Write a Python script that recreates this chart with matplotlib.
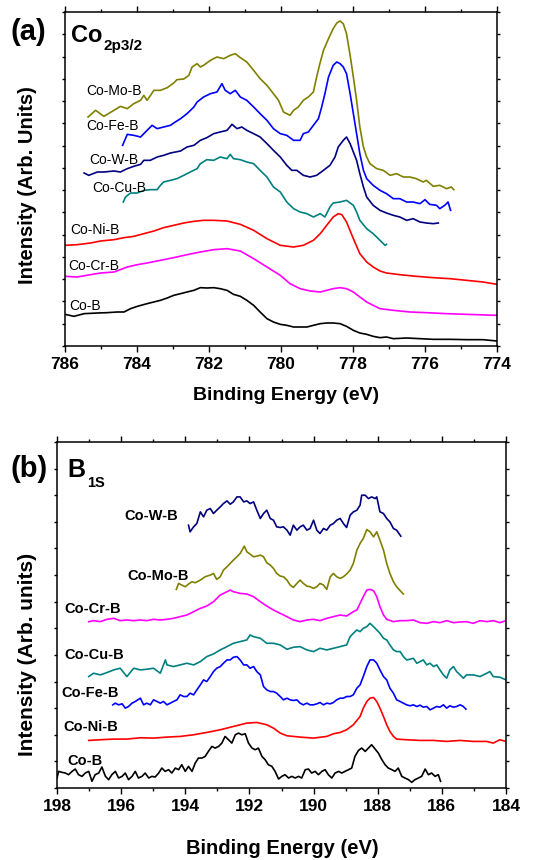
import matplotlib.pyplot as plt
from matplotlib.ticker import MultipleLocator

plt.rcParams["font.family"] = ["Liberation Sans", "DejaVu Sans"]

# ---------------- panel (a): Co 2p3/2 (binding energy in eV, intensity in arb. units)
a_mo_ev = [785.36, 785.15, 784.92, 784.64, 784.46, 784.27, 784.09, 783.90, 783.81, 783.72, 783.53, 783.35,
           783.16, 782.98, 782.89, 782.70, 782.56, 782.47, 782.33, 782.24, 782.15, 781.96, 781.78, 781.59,
           781.41, 781.27, 781.13, 780.95, 780.76, 780.58, 780.39, 780.21, 780.07, 779.93, 779.84, 779.75,
           779.65, 779.52, 779.38, 779.24, 779.10, 779.01, 778.92, 778.82, 778.68, 778.55, 778.45, 778.36,
           778.27, 778.18, 778.08, 777.99, 777.90, 777.81, 777.71, 777.62, 777.53, 777.34, 777.16, 776.97,
           776.79, 776.60, 776.42, 776.24, 776.05, 775.96, 775.77, 775.59, 775.40, 775.27, 775.20]
a_mo_y = [687, 707, 689, 707, 719, 712, 727, 737, 752, 737, 767, 767,
          775, 789, 799, 801, 812, 837, 847, 837, 842, 857, 867, 862,
          872, 877, 865, 852, 827, 802, 782, 757, 737, 702, 697, 692,
          707, 717, 737, 747, 762, 807, 847, 887, 922, 952, 969, 975,
          967, 937, 872, 807, 737, 657, 597, 567, 547, 532, 527, 512,
          517, 507, 507, 502, 492, 497, 479, 482, 472, 477, 469]

a_fe_ev = [784.40, 784.27, 784.09, 783.90, 783.72, 783.58, 783.44, 783.26, 783.07, 782.98, 782.79, 782.61,
           782.42, 782.33, 782.15, 781.96, 781.78, 781.64, 781.55, 781.41, 781.27, 781.13, 780.95, 780.76,
           780.58, 780.39, 780.21, 780.02, 779.84, 779.65, 779.47, 779.38, 779.24, 779.10, 778.96, 778.87,
           778.78, 778.68, 778.55, 778.45, 778.36, 778.27, 778.18, 778.08, 777.99, 777.90, 777.81, 777.71,
           777.62, 777.53, 777.44, 777.25, 777.07, 776.88, 776.70, 776.51, 776.33, 776.14, 776.00, 775.87,
           775.68, 775.59, 775.45, 775.36, 775.29]
a_fe_y = [602, 635, 632, 627, 647, 662, 652, 657, 662, 669, 682, 697,
          717, 732, 747, 757, 762, 787, 767, 757, 767, 747, 737, 717,
          697, 677, 652, 637, 632, 617, 617, 637, 642, 662, 682, 717,
          757, 807, 842, 852, 847, 837, 817, 757, 697, 637, 577, 527,
          502, 492, 482, 467, 457, 442, 442, 432, 432, 427, 439, 425,
          422, 412, 422, 432, 407]

a_w_ev = [785.47, 785.34, 785.10, 784.92, 784.64, 784.46, 784.27, 784.09, 783.90, 783.81, 783.63, 783.44,
          783.26, 783.07, 782.79, 782.61, 782.42, 782.24, 782.06, 781.87, 781.69, 781.50, 781.36, 781.22,
          781.09, 780.95, 780.76, 780.58, 780.39, 780.21, 780.02, 779.84, 779.70, 779.56, 779.38, 779.19,
          779.01, 778.82, 778.64, 778.50, 778.41, 778.27, 778.18, 778.08, 777.99, 777.90, 777.81, 777.71,
          777.62, 777.44, 777.25, 777.07, 776.88, 776.70, 776.51, 776.33, 776.14, 775.96, 775.77, 775.63]
a_w_y = [519, 512, 522, 522, 525, 522, 532, 539, 545, 557, 557, 567,
         572, 579, 585, 597, 602, 617, 625, 637, 642, 647, 665, 652,
         657, 647, 637, 627, 607, 587, 567, 542, 527, 527, 512, 507,
         512, 527, 542, 567, 597, 617, 627, 607, 582, 557, 517, 477,
         447, 422, 407, 399, 392, 387, 377, 382, 372, 369, 367, 369]

a_cu_ev = [784.38, 784.32, 784.18, 783.99, 783.81, 783.63, 783.44, 783.35, 783.26, 783.07, 782.89, 782.70,
           782.52, 782.33, 782.24, 782.06, 781.87, 781.69, 781.50, 781.41, 781.32, 781.13, 780.95, 780.76,
           780.58, 780.39, 780.21, 780.02, 779.84, 779.65, 779.47, 779.28, 779.10, 778.91, 778.78, 778.64,
           778.55, 778.36, 778.18, 777.99, 777.90, 777.81, 777.62, 777.44, 777.25, 777.11, 777.07]
a_cu_y = [432, 447, 459, 459, 467, 469, 469, 482, 492, 497, 502, 512,
          522, 532, 547, 559, 557, 567, 562, 575, 562, 559, 552, 547,
          527, 507, 477, 462, 432, 412, 402, 397, 387, 397, 387, 417,
          429, 432, 437, 422, 402, 377, 352, 337, 317, 302, 305]

a_ni_ev = [786.00, 785.66, 785.29, 785.01, 784.64, 784.36, 784.09, 783.81, 783.53, 783.26, 782.98, 782.70,
           782.42, 782.15, 781.87, 781.50, 781.13, 780.76, 780.39, 780.02, 779.65, 779.38, 779.10, 778.91,
           778.73, 778.55, 778.41, 778.31, 778.18, 777.99, 777.81, 777.62, 777.44, 777.25, 777.07, 776.70,
           776.24, 775.77, 775.31, 774.85, 774.39, 774.00]
a_ni_y = [302, 304, 309, 315, 319, 325, 329, 337, 345, 355, 362, 369,
          374, 377, 377, 375, 365, 347, 322, 302, 297, 302, 317, 337,
          362, 387, 397, 394, 372, 322, 277, 252, 237, 225, 219, 214,
          209, 205, 202, 197, 192, 185]

a_cr_ev = [786.00, 785.66, 785.29, 785.01, 784.64, 784.27, 783.99, 783.72, 783.35, 782.98, 782.61, 782.24,
           781.87, 781.50, 781.13, 780.76, 780.39, 780.02, 779.75, 779.47, 779.19, 778.91, 778.73, 778.55,
           778.36, 778.18, 777.99, 777.81, 777.62, 777.44, 777.25, 776.88, 776.42, 775.96, 775.40, 774.85,
           774.00]
a_cr_y = [209, 207, 214, 219, 222, 237, 244, 249, 257, 265, 274, 282,
          289, 292, 285, 262, 237, 212, 187, 172, 165, 162, 167, 172,
          175, 172, 162, 147, 132, 122, 112, 107, 102, 100, 97, 95,
          92]

a_b_ev = [786.00, 785.75, 785.47, 785.10, 784.83, 784.55, 784.36, 784.18, 783.99, 783.72, 783.35, 783.16,
          782.98, 782.79, 782.61, 782.42, 782.24, 782.06, 781.87, 781.69, 781.50, 781.32, 781.13, 780.95,
          780.76, 780.58, 780.39, 780.21, 780.02, 779.84, 779.65, 779.47, 779.28, 779.10, 778.91, 778.73,
          778.55, 778.36, 778.18, 777.99, 777.81, 777.62, 777.44, 777.25, 777.07, 776.88, 776.51, 776.14,
          775.77, 775.31, 774.85, 774.39, 774.00]
a_b_y = [95, 89, 97, 99, 100, 102, 102, 112, 119, 127, 137, 144,
         152, 157, 162, 167, 175, 174, 175, 172, 167, 155, 149, 137,
         122, 102, 82, 72, 65, 62, 57, 57, 57, 62, 67, 69,
         69, 67, 59, 47, 39, 35, 29, 25, 27, 22, 24, 22,
         20, 20, 19, 19, 15]

a_names = ["Co-Mo-B", "Co-Fe-B", "Co-W-B", "Co-Cu-B", "Co-Ni-B", "Co-Cr-B", "Co-B"]
a_label_ev = [784.64, 784.68, 784.64, 784.50, 785.17, 785.21, 785.45]
a_label_y = [765, 659, 557, 475, 349, 239, 119]

# ---------------- panel (b): B 1s
b_w_ev = [193.90, 193.85, 193.74, 193.64, 193.53, 193.43, 193.33, 193.22, 193.12, 193.02, 192.91, 192.81,
          192.70, 192.60, 192.50, 192.39, 192.29, 192.18, 192.08, 191.98, 191.87, 191.77, 191.66, 191.56,
          191.46, 191.35, 191.25, 191.15, 191.04, 190.94, 190.83, 190.73, 190.63, 190.52, 190.42, 190.32,
          190.21, 190.11, 190.00, 189.90, 189.80, 189.69, 189.59, 189.48, 189.38, 189.28, 189.17, 189.07,
          188.97, 188.86, 188.76, 188.65, 188.55, 188.50, 188.39, 188.29, 188.19, 188.08, 188.03, 187.93,
          187.82, 187.72, 187.62, 187.51, 187.41, 187.28]
b_w_y = [790, 770, 785, 795, 830, 815, 835, 840, 825, 835, 845, 855,
         863, 853, 860, 875, 875, 860, 863, 855, 860, 835, 810, 825,
         835, 810, 805, 785, 783, 785, 775, 760, 790, 775, 785, 790,
         775, 780, 805, 775, 765, 780, 775, 790, 795, 805, 810, 795,
         783, 820, 830, 835, 850, 880, 880, 870, 875, 870, 875, 830,
         825, 810, 800, 780, 775, 757]

b_mo_ev = [194.28, 194.21, 194.11, 194.00, 193.90, 193.79, 193.69, 193.53, 193.38, 193.22, 193.12, 193.02,
           192.91, 192.81, 192.70, 192.60, 192.50, 192.39, 192.29, 192.16, 192.08, 191.98, 191.87, 191.77,
           191.66, 191.56, 191.46, 191.35, 191.25, 191.15, 191.04, 190.94, 190.83, 190.73, 190.63, 190.52,
           190.42, 190.32, 190.21, 190.11, 190.00, 189.90, 189.80, 189.69, 189.59, 189.48, 189.38, 189.28,
           189.17, 189.07, 188.97, 188.86, 188.76, 188.65, 188.55, 188.45, 188.34, 188.24, 188.13, 188.03,
           187.93, 187.82, 187.72, 187.62, 187.51, 187.41, 187.30, 187.20]
b_mo_y = [597, 615, 610, 605, 613, 620, 617, 625, 635, 640, 645, 627,
          635, 655, 665, 675, 685, 695, 705, 727, 710, 703, 695, 697,
          700, 695, 677, 670, 660, 645, 637, 635, 625, 610, 603, 615,
          625, 615, 607, 605, 600, 605, 615, 610, 597, 635, 645, 635,
          630, 635, 643, 655, 675, 715, 735, 750, 777, 770, 755, 770,
          745, 715, 675, 645, 620, 605, 593, 583]

b_cr_ev = [197.01, 196.86, 196.65, 196.44, 196.23, 196.03, 195.82, 195.61, 195.40, 195.20, 194.99, 194.78,
           194.57, 194.37, 194.16, 193.95, 193.74, 193.64, 193.53, 193.33, 193.12, 192.91, 192.70, 192.60,
           192.50, 192.29, 192.08, 191.87, 191.66, 191.46, 191.25, 191.04, 190.83, 190.63, 190.42, 190.21,
           190.00, 189.80, 189.59, 189.38, 189.17, 188.97, 188.76, 188.65, 188.55, 188.45, 188.34, 188.24,
           188.13, 188.03, 187.93, 187.82, 187.72, 187.51, 187.30, 187.10, 186.89, 186.68, 186.47, 186.26,
           186.06, 185.85, 185.64, 185.43, 185.23, 185.02, 184.81, 184.60, 184.40, 184.19, 184.00]
b_cr_y = [500, 503, 500, 507, 510, 503, 505, 503, 505, 503, 507, 505,
          507, 510, 515, 520, 530, 535, 540, 547, 560, 580, 590, 595,
          590, 585, 583, 575, 560, 547, 535, 525, 515, 505, 500, 505,
          507, 503, 510, 515, 520, 517, 530, 535, 555, 575, 595, 597,
          593, 575, 545, 520, 507, 500, 503, 503, 505, 497, 495, 500,
          497, 503, 497, 499, 500, 495, 503, 500, 503, 497, 503]

b_cu_ev = [197.01, 196.86, 196.65, 196.44, 196.23, 196.03, 195.82, 195.61, 195.40, 195.20, 194.99, 194.78,
           194.62, 194.57, 194.37, 194.16, 193.95, 193.74, 193.53, 193.33, 193.12, 192.91, 192.70, 192.50,
           192.29, 192.08, 191.98, 191.87, 191.66, 191.46, 191.25, 191.04, 190.83, 190.63, 190.42, 190.21,
           190.00, 189.80, 189.59, 189.38, 189.17, 188.97, 188.86, 188.76, 188.65, 188.55, 188.45, 188.34,
           188.24, 188.13, 188.03, 187.93, 187.82, 187.72, 187.62, 187.51, 187.41, 187.30, 187.20, 187.10,
           186.99, 186.89, 186.78, 186.68, 186.58, 186.47, 186.37, 186.26, 186.16, 186.06, 185.95, 185.85,
           185.75, 185.64, 185.54, 185.43, 185.33, 185.23, 185.02, 184.81, 184.60, 184.50, 184.40, 184.19,
           184.00]
b_cu_y = [335, 345, 340, 347, 355, 360, 335, 360, 355, 357, 360, 345,
          385, 370, 365, 370, 375, 370, 380, 395, 403, 415, 425, 435,
          440, 445, 460, 455, 450, 435, 435, 430, 417, 423, 425, 415,
          410, 420, 415, 420, 425, 430, 455, 465, 475, 470, 480, 485,
          495, 485, 475, 465, 450, 445, 430, 415, 410, 410, 395, 385,
          387, 390, 375, 380, 385, 370, 375, 365, 370, 355, 340, 330,
          355, 365, 350, 340, 330, 340, 340, 335, 345, 350, 335, 333,
          325]

b_fe_ev = [196.26, 196.18, 196.08, 195.97, 195.87, 195.77, 195.66, 195.56, 195.40, 195.30, 195.20, 195.09,
           194.99, 194.88, 194.78, 194.68, 194.57, 194.47, 194.37, 194.26, 194.16, 194.05, 193.95, 193.85,
           193.74, 193.64, 193.53, 193.43, 193.33, 193.22, 193.12, 193.02, 192.91, 192.81, 192.70, 192.60,
           192.50, 192.39, 192.29, 192.18, 192.08, 191.98, 191.87, 191.77, 191.66, 191.56, 191.46, 191.35,
           191.25, 191.15, 191.04, 190.94, 190.83, 190.73, 190.63, 190.52, 190.42, 190.32, 190.21, 190.11,
           190.00, 189.90, 189.80, 189.69, 189.59, 189.48, 189.38, 189.28, 189.17, 189.07, 188.97, 188.86,
           188.76, 188.65, 188.55, 188.45, 188.34, 188.24, 188.13, 188.03, 187.93, 187.82, 187.72, 187.62,
           187.51, 187.41, 187.30, 187.20, 187.10, 186.99, 186.89, 186.78, 186.68, 186.58, 186.47, 186.37,
           186.26, 186.16, 186.06, 185.95, 185.85, 185.75, 185.64, 185.54, 185.43, 185.33, 185.25]
b_fe_y = [250, 255, 250, 253, 240, 245, 255, 260, 270, 250, 255, 250,
          265, 260, 255, 260, 250, 255, 260, 265, 280, 275, 275, 285,
          280, 295, 310, 325, 320, 335, 350, 360, 365, 375, 385, 385,
          393, 395, 385, 370, 370, 360, 365, 350, 340, 305, 295, 290,
          290, 285, 275, 265, 270, 265, 263, 265, 255, 250, 255, 250,
          250, 253, 257, 250, 255, 253, 257, 265, 270, 270, 275, 275,
          280, 300, 310, 335, 365, 385, 385, 375, 355, 335, 325, 300,
          285, 265, 260, 255, 250, 247, 250, 245, 249, 243, 245, 235,
          240, 245, 243, 250, 240, 247, 243, 245, 250, 245, 237]

b_ni_ev = [197.01, 196.65, 196.23, 195.82, 195.40, 194.99, 194.57, 194.16, 193.74, 193.33, 192.91, 192.50,
           192.08, 191.77, 191.46, 191.25, 191.04, 190.83, 190.42, 190.00, 189.59, 189.38, 189.17, 188.97,
           188.76, 188.55, 188.45, 188.34, 188.24, 188.13, 188.03, 187.93, 187.82, 187.72, 187.62, 187.51,
           187.41, 187.10, 186.68, 186.26, 185.85, 185.43, 185.02, 184.60, 184.40, 184.19, 184.00]
b_ni_y = [143, 145, 147, 147, 151, 150, 153, 155, 160, 167, 175, 185,
          195, 197, 190, 180, 165, 157, 153, 150, 155, 163, 167, 175,
          190, 215, 240, 260, 270, 272, 260, 240, 215, 190, 170, 155,
          147, 145, 143, 143, 140, 143, 140, 140, 135, 145, 140]

b_b_ev = [198.00, 197.95, 197.84, 197.74, 197.64, 197.53, 197.43, 197.33, 197.22, 197.12, 197.01, 196.91,
          196.81, 196.70, 196.60, 196.49, 196.39, 196.29, 196.18, 196.08, 195.97, 195.87, 195.77, 195.66,
          195.56, 195.46, 195.35, 195.25, 195.14, 195.04, 194.94, 194.83, 194.73, 194.63, 194.52, 194.42,
          194.31, 194.21, 194.11, 194.00, 193.90, 193.79, 193.69, 193.59, 193.48, 193.38, 193.28, 193.17,
          193.07, 192.96, 192.86, 192.76, 192.65, 192.55, 192.44, 192.34, 192.24, 192.13, 192.03, 191.92,
          191.82, 191.72, 191.61, 191.51, 191.41, 191.30, 191.20, 191.09, 190.99, 190.89, 190.78, 190.68,
          190.57, 190.47, 190.37, 190.26, 190.16, 190.06, 189.95, 189.85, 189.74, 189.64, 189.54, 189.43,
          189.33, 189.22, 189.12, 189.02, 188.91, 188.81, 188.71, 188.60, 188.50, 188.39, 188.29, 188.19,
          188.08, 187.98, 187.87, 187.77, 187.67, 187.56, 187.46, 187.36, 187.25, 187.15, 187.04, 186.94,
          186.84, 186.73, 186.63, 186.52, 186.42, 186.32, 186.21, 186.11, 186.04]
b_b_y = [30, 50, 47, 45, 40, 50, 57, 40, 35, 45, 50, 20,
         40, 45, 63, 35, 25, 40, 50, 30, 35, 45, 25, 35,
         50, 30, 35, 45, 30, 35, 33, 45, 60, 50, 55, 45,
         60, 55, 70, 50, 65, 50, 75, 90, 90, 95, 110, 125,
         120, 125, 135, 155, 145, 135, 160, 165, 160, 163, 135, 120,
         115, 120, 95, 85, 70, 65, 50, 27, 35, 40, 30, 35,
         30, 35, 30, 55, 57, 45, 50, 40, 50, 55, 40, 30,
         45, 50, 45, 50, 55, 60, 95, 113, 120, 110, 120, 130,
         117, 105, 85, 70, 60, 55, 50, 60, 35, 30, 25, 17,
         25, 30, 35, 57, 40, 45, 35, 40, 20]

b_names = ["Co-W-B", "Co-Mo-B", "Co-Cr-B", "Co-Cu-B", "Co-Fe-B", "Co-Ni-B", "Co-B"]
b_label_ev = [195.07, 194.86, 196.88, 196.84, 196.98, 196.94, 197.12]
b_label_y = [817, 637, 538, 400, 285, 183, 82]

a_series = [(a_mo_ev, a_mo_y, "#808000"), (a_fe_ev, a_fe_y, "#0000ff"), (a_w_ev, a_w_y, "#000080"),
            (a_cu_ev, a_cu_y, "#008080"), (a_ni_ev, a_ni_y, "#ff0000"), (a_cr_ev, a_cr_y, "#ff00ff"),
            (a_b_ev, a_b_y, "#000000")]
b_series = [(b_w_ev, b_w_y, "#000080"), (b_mo_ev, b_mo_y, "#808000"), (b_cr_ev, b_cr_y, "#ff00ff"),
            (b_cu_ev, b_cu_y, "#008080"), (b_fe_ev, b_fe_y, "#0000ff"), (b_ni_ev, b_ni_y, "#ff0000"),
            (b_b_ev, b_b_y, "#000000")]


def style_axes(ax, xmin, xmax, ymax, ystep):
    ax.set_xlim(xmin, xmax)
    ax.set_ylim(0, ymax)
    ax.xaxis.set_major_locator(MultipleLocator(2))
    ax.xaxis.set_minor_locator(MultipleLocator(1))
    ax.yaxis.set_major_locator(MultipleLocator(ystep))
    ax.set_yticklabels([])
    ax.tick_params(axis="x", which="major", direction="out", length=4, width=1, pad=4,
                   labelsize=12.5, top=True)
    ax.tick_params(axis="x", which="minor", direction="out", length=2.5, width=1, top=True)
    ax.tick_params(axis="y", which="major", direction="out", length=2, width=1, right=True)
    for lab in ax.get_xticklabels():
        lab.set_fontweight("bold")
    for sp in ax.spines.values():
        sp.set_linewidth(1.1)


fig = plt.figure(figsize=(5.47, 8.60), dpi=100)

# panel (a)
ax1 = fig.add_axes([65 / 547, 1 - 346 / 860, 432 / 547, 334 / 860])
for ev, y, c in a_series:
    ax1.plot(ev, y, color=c, lw=1.2)
for name, x, y in zip(a_names, a_label_ev, a_label_y):
    ax1.text(x, y, name, ha="center", va="center", fontsize=10)
style_axes(ax1, 786, 774, 1002, 66.8)
ax1.set_xlabel("Binding Energy (eV)", fontsize=14, fontweight="bold", va="center")
ax1.xaxis.set_label_coords(0.512, -0.147)
ax1.set_ylabel("Intensity (Arb. Units)", fontsize=14.5, fontweight="bold", va="center")
ax1.yaxis.set_label_coords(-0.086, 0.482)
ax1.text(0.014, 0.910, "Co", transform=ax1.transAxes, fontsize=17, fontweight="bold", va="baseline")
ax1.text(0.088, 0.886, "2p3/2", transform=ax1.transAxes, fontsize=11, fontweight="bold", va="baseline")
fig.text(10 / 547, 1 - 40 / 860, "(a)", fontsize=21, fontweight="bold", va="baseline")

# panel (b)
ax2 = fig.add_axes([57 / 547, 1 - 788 / 860, 449 / 547, 346 / 860])
for ev, y, c in b_series:
    ax2.plot(ev, y, color=c, lw=1.2)
for name, x, y in zip(b_names, b_label_ev, b_label_y):
    ax2.text(x, y, name, ha="center", va="center", fontsize=10.5, fontweight="bold")
style_axes(ax2, 198, 184, 1040, 80)
ax2.set_xlabel("Binding Energy (eV)", fontsize=14.5, fontweight="bold", va="center")
ax2.xaxis.set_label_coords(0.501, -0.176)
ax2.set_ylabel("Intensity (Arb. units)", fontsize=15, fontweight="bold", va="center")
ax2.yaxis.set_label_coords(-0.065, 0.387)
ax2.text(0.022, 0.899, "B", transform=ax2.transAxes, fontsize=18, fontweight="bold", va="baseline")
ax2.text(0.067, 0.870, "1S", transform=ax2.transAxes, fontsize=10.5, fontweight="bold", va="baseline")
fig.text(10 / 547, 1 - 477 / 860, "(b)", fontsize=21, fontweight="bold", va="baseline")

fig.savefig("out.png", dpi=100)
